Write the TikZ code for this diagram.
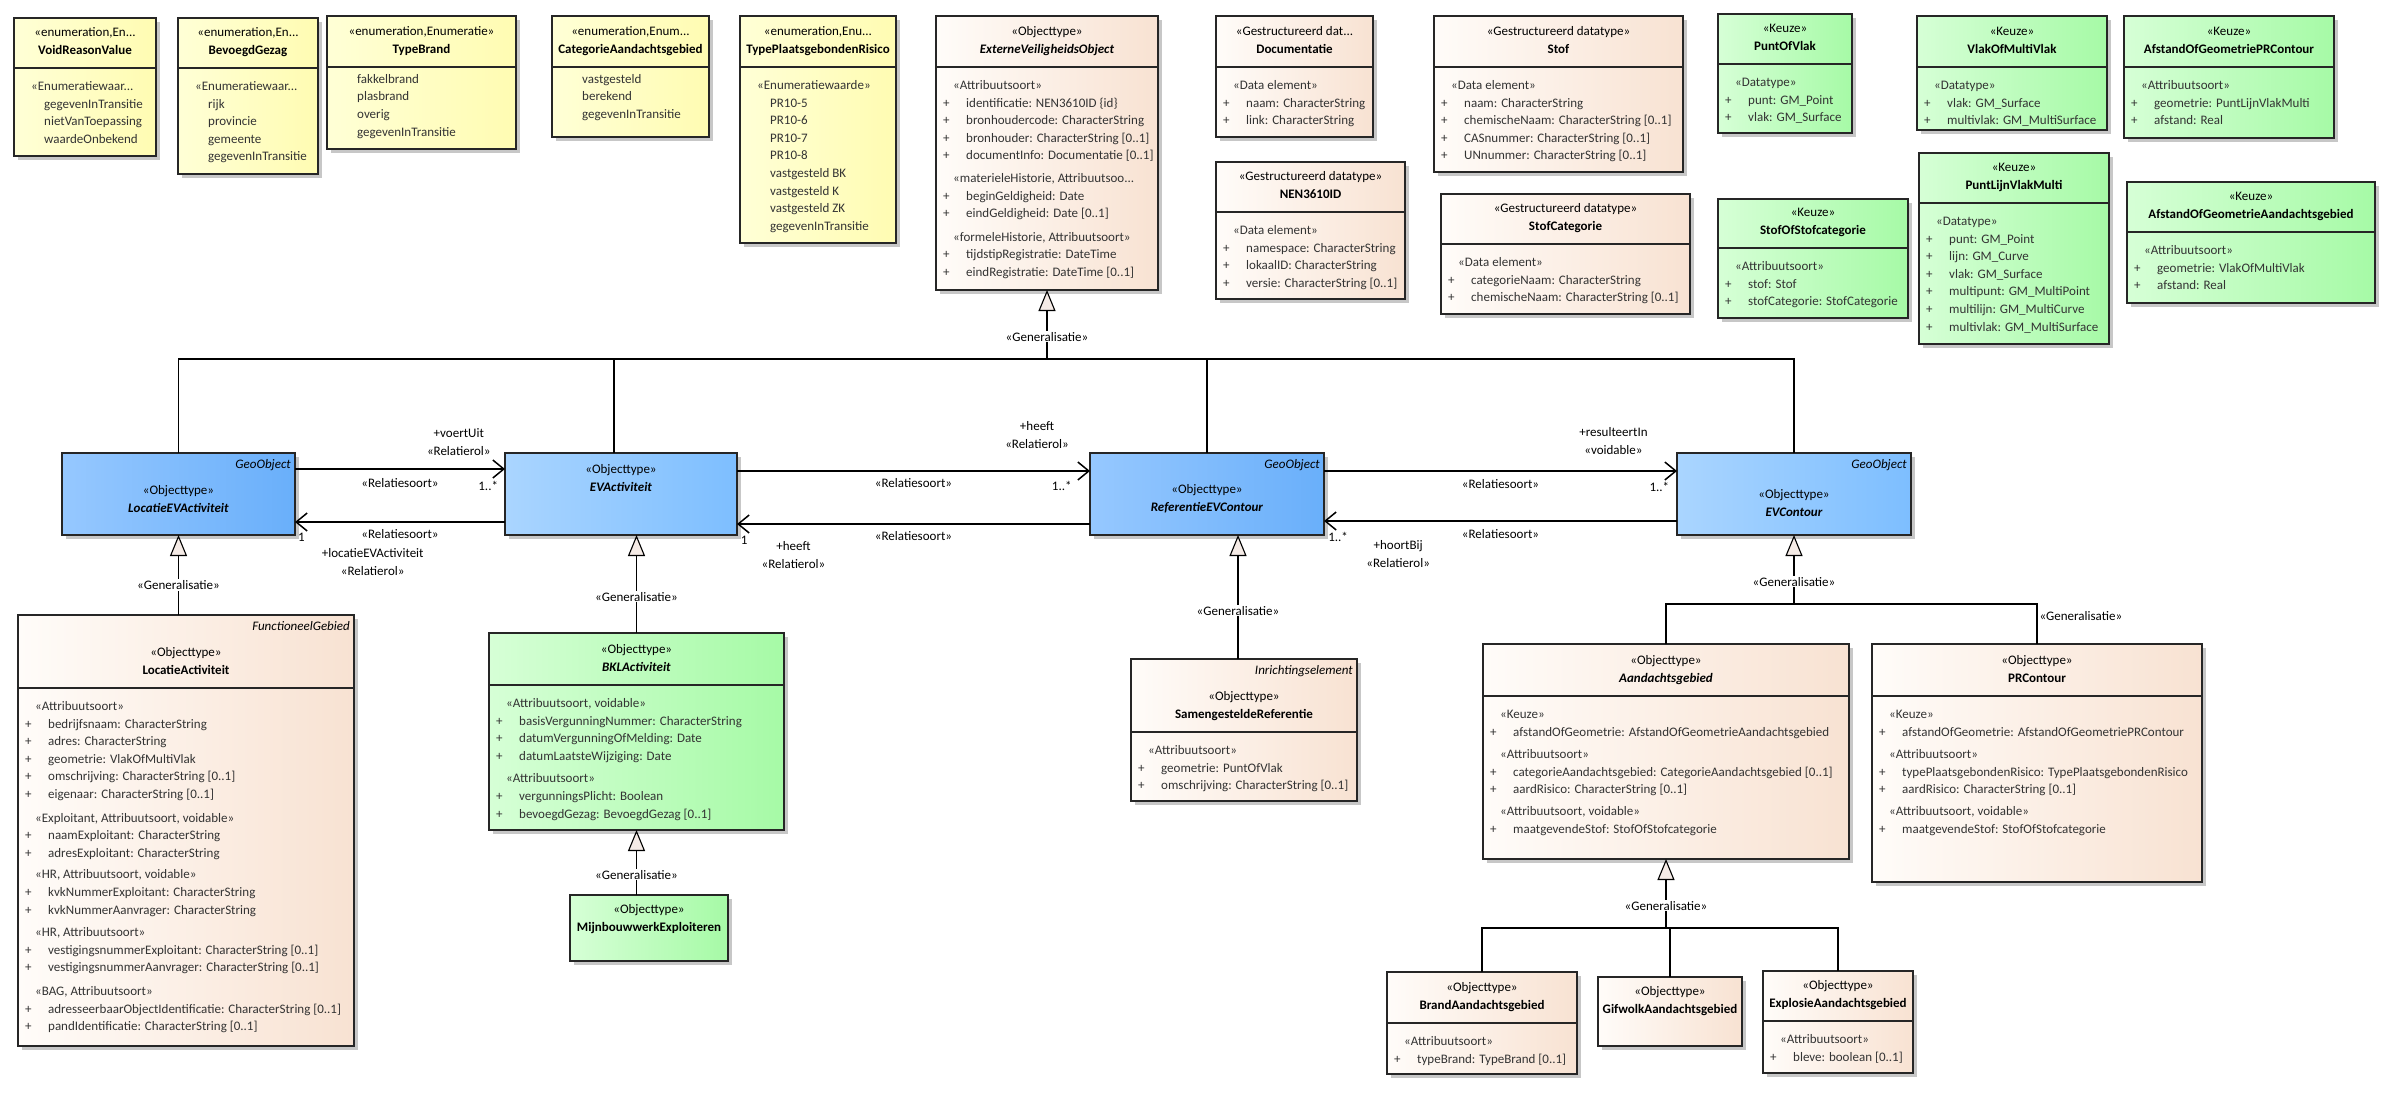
\documentclass[tikz,border=0pt]{standalone}
\usepackage{fontspec}
\setmainfont{Carlito}
\usepackage{tikz}
\usetikzlibrary{arrows.meta, shadows}
\usepackage{xcolor}
\definecolor{enumleft}{RGB}{255,255,214}
\definecolor{enumright}{RGB}{255,252,178}
\definecolor{objleft}{RGB}{255,252,249}
\definecolor{objright}{RGB}{248,226,210}
\definecolor{keuzeleft}{RGB}{214,255,214}
\definecolor{keuzeright}{RGB}{166,250,166}
\definecolor{geoleft}{RGB}{150,200,255}
\definecolor{georight}{RGB}{105,175,250}
\definecolor{evleft}{RGB}{170,213,255}
\definecolor{evright}{RGB}{125,190,255}
\definecolor{trifill}{RGB}{245,235,230}

% header, stereotype and attribute lines of a class box
\newcommand{\hdr}[2]{\strut#1\\\strut\textbf{#2}}
\newcommand{\stereo}[1]{\strut\hspace{10pt}#1}
\newcommand{\attr}[1]{\strut\makebox[23pt][l]{+}#1}
\newcommand{\lit}[1]{\strut\hspace{23pt}#1}
\newcommand{\litf}[1]{\rule{0pt}{6pt}\hspace{23pt}\smash{#1}}
% name, colour style, x, y, width, height, divider, header, body
\newcommand{\umlbox}[9]{%
  \node[classbox, #2, minimum width=#5pt, minimum height=#6pt, anchor=north west] (#1) at (#3,#4) {};
  \node[hdrtext, anchor=south] (#1-h) at ([yshift=-#7pt+8pt]#1.north) {#8};
  \if\relax\detokenize{#9}\relax\else
  \draw[divider] ([yshift=-#7pt]#1.north west) -- ([yshift=-#7pt]#1.north east);
  \node[bodytext, anchor=north west] (#1-b) at ([xshift=7pt,yshift=-#7pt-10pt]#1.north west) {#9};
  \fi}

\begin{document}
\begin{tikzpicture}[x=1pt, y=-1pt,
  classbox/.style={rectangle, draw=black!85, line width=1.1pt, inner sep=0pt, outer sep=0pt,
                   drop shadow={shadow xshift=4pt, shadow yshift=-4pt, fill=black, opacity=0.22}},
  enum/.style={left color=enumleft, right color=enumright},
  obj/.style={left color=objleft, right color=objright},
  keuze/.style={left color=keuzeleft, right color=keuzeright},
  geo/.style={left color=geoleft, right color=georight},
  ev/.style={left color=evleft, right color=evright},
  divider/.style={draw=black!85, line width=1.1pt},
  hdrtext/.style={font=\fontsize{13}{17.6}\selectfont, align=center, inner sep=0pt},
  bodytext/.style={font=\fontsize{13}{17.6}\selectfont, align=left, inner sep=0pt, text=black!80},
  tag/.style={font=\fontsize{13}{16}\selectfont\itshape, inner sep=0pt, anchor=north east},
  lbl/.style={font=\fontsize{13}{18}\selectfont, align=center, inner sep=1pt},
  genlbl/.style={lbl, fill=white},
  genline/.style={line width=1.1pt},
  gen/.style={genline, -{Triangle[length=21pt, width=17pt, fill=trifill]}},
  assoc/.style={line width=1.5pt, -{Straight Barb[length=11pt, width=18pt]}}
]
\useasboundingbox[fill=white] (0,0) rectangle (2399,1093);

% enumerations
\umlbox{vrv}{enum}{14}{18}{142}{138}{50}{\hdr{«enumeration,En...}{VoidReasonValue}}
  {\stereo{«Enumeratiewaar...}\\\lit{gegevenInTransitie}\\\lit{nietVanToepassing}\\\lit{waardeOnbekend}}
\umlbox{bgz}{enum}{178}{18}{140}{156}{50}{\hdr{«enumeration,En...}{BevoegdGezag}}
  {\stereo{«Enumeratiewaar...}\\\lit{rijk}\\\lit{provincie}\\\lit{gemeente}\\\lit{gegevenInTransitie}}
\umlbox{tbr}{enum}{327}{16}{189}{133}{51}{\hdr{«enumeration,Enumeratie»}{TypeBrand}}
  {\litf{fakkelbrand}\\\lit{plasbrand}\\\lit{overig}\\\lit{gegevenInTransitie}}
\umlbox{cag}{enum}{552}{16}{157}{121}{51}{\hdr{«enumeration,Enum...}{CategorieAandachtsgebied}}
  {\litf{vastgesteld}\\\lit{berekend}\\\lit{gegevenInTransitie}}
\umlbox{tpr}{enum}{740}{16}{156}{227}{51}{\hdr{«enumeration,Enu...}{TypePlaatsgebondenRisico}}
  {\stereo{«Enumeratiewaarde»}\\\lit{PR10-5}\\\lit{PR10-6}\\\lit{PR10-7}\\\lit{PR10-8}\\
   \lit{vastgesteld BK}\\\lit{vastgesteld K}\\\lit{vastgesteld ZK}\\\lit{gegevenInTransitie}}

% datatypes
\umlbox{evo}{obj}{936}{16}{222}{274}{51}{\hdr{«Objecttype»}{\textit{ExterneVeiligheidsObject}}}
  {\stereo{«Attribuutsoort»}\\\attr{identificatie: NEN3610ID \{id\}}\\\attr{bronhoudercode: CharacterString}\\
   \attr{bronhouder: CharacterString [0..1]}\\\attr{documentInfo: Documentatie [0..1]}\\[5pt]
   \stereo{«materieleHistorie, Attribuutsoo...}\\\attr{beginGeldigheid: Date}\\\attr{eindGeldigheid: Date [0..1]}\\[6pt]
   \stereo{«formeleHistorie, Attribuutsoort»}\\\attr{tijdstipRegistratie: DateTime}\\\attr{eindRegistratie: DateTime [0..1]}}
\umlbox{doc}{obj}{1216}{16}{157}{121}{51}{\hdr{«Gestructureerd dat...}{Documentatie}}
  {\stereo{«Data element»}\\\attr{naam: CharacterString}\\\attr{link: CharacterString}}
\umlbox{nen}{obj}{1216}{162}{189}{137}{50}{\hdr{«Gestructureerd datatype»}{NEN3610ID}}
  {\stereo{«Data element»}\\\attr{namespace: CharacterString}\\\attr{lokaalID: CharacterString}\\\attr{versie: CharacterString [0..1]}}
\umlbox{stof}{obj}{1434}{16}{249}{156}{51}{\hdr{«Gestructureerd datatype»}{Stof}}
  {\stereo{«Data element»}\\\attr{naam: CharacterString}\\\attr{chemischeNaam: CharacterString [0..1]}\\
   \attr{CASnummer: CharacterString [0..1]}\\\attr{UNnummer: CharacterString [0..1]}}
\umlbox{stc}{obj}{1441}{194}{249}{120}{50}{\hdr{«Gestructureerd datatype»}{StofCategorie}}
  {\stereo{«Data element»}\\\attr{categorieNaam: CharacterString}\\\attr{chemischeNaam: CharacterString [0..1]}}

% keuze types
\umlbox{pov}{keuze}{1718}{14}{134}{119}{50}{\hdr{«Keuze»}{PuntOfVlak}}
  {\stereo{«Datatype»}\\\attr{punt: GM\_Point}\\\attr{vlak: GM\_Surface}}
\umlbox{vmv}{keuze}{1917}{16}{190}{114}{51}{\hdr{«Keuze»}{VlakOfMultiVlak}}
  {\stereo{«Datatype»}\\\attr{vlak: GM\_Surface}\\\attr{multivlak: GM\_MultiSurface}}
\umlbox{agp}{keuze}{2124}{16}{210}{122}{51}{\hdr{«Keuze»}{AfstandOfGeometriePRContour}}
  {\stereo{«Attribuutsoort»}\\\attr{geometrie: PuntLijnVlakMulti}\\\attr{afstand: Real}}
\umlbox{sos}{keuze}{1718}{199}{190}{119}{49}{\hdr{«Keuze»}{StofOfStofcategorie}}
  {\stereo{«Attribuutsoort»}\\\attr{stof: Stof}\\\attr{stofCategorie: StofCategorie}}
\umlbox{plv}{keuze}{1919}{153}{190}{191}{50}{\hdr{«Keuze»}{PuntLijnVlakMulti}}
  {\stereo{«Datatype»}\\\attr{punt: GM\_Point}\\\attr{lijn: GM\_Curve}\\\attr{vlak: GM\_Surface}\\
   \attr{multipunt: GM\_MultiPoint}\\\attr{multilijn: GM\_MultiCurve}\\\attr{multivlak: GM\_MultiSurface}}
\umlbox{aga}{keuze}{2127}{182}{248}{121}{50}{\hdr{«Keuze»}{AfstandOfGeometrieAandachtsgebied}}
  {\stereo{«Attribuutsoort»}\\\attr{geometrie: VlakOfMultiVlak}\\\attr{afstand: Real}}

% geo objects
\umlbox{locev}{geo}{62}{453}{233}{82}{73}{\hdr{«Objecttype»}{\textit{LocatieEVActiviteit}}}{}
\umlbox{evact}{ev}{505}{453}{232}{82}{52}{\hdr{«Objecttype»}{\textit{EVActiviteit}}}{}
\umlbox{refev}{geo}{1090}{453}{234}{82}{72}{\hdr{«Objecttype»}{\textit{ReferentieEVContour}}}{}
\umlbox{evc}{ev}{1677}{453}{234}{82}{77}{\hdr{«Objecttype»}{\textit{EVContour}}}{}
\node[tag] (locev-t) at ([xshift=-4pt,yshift=-6pt]locev.north east) {GeoObject};
\node[tag] (refev-t) at ([xshift=-4pt,yshift=-6pt]refev.north east) {GeoObject};
\node[tag] (evc-t) at ([xshift=-4pt,yshift=-6pt]evc.north east) {GeoObject};

% subtypes
\umlbox{loca}{obj}{18}{615}{336}{431}{73}{\hdr{«Objecttype»}{LocatieActiviteit}}
  {\stereo{«Attribuutsoort»}\\\attr{bedrijfsnaam: CharacterString}\\\attr{adres: CharacterString}\\
   \attr{geometrie: VlakOfMultiVlak}\\\attr{omschrijving: CharacterString [0..1]}\\\attr{eigenaar: CharacterString [0..1]}\\[6pt]
   \stereo{«Exploitant, Attribuutsoort, voidable»}\\\attr{naamExploitant: CharacterString}\\\attr{adresExploitant: CharacterString}\\[4pt]
   \stereo{«HR, Attribuutsoort, voidable»}\\\attr{kvkNummerExploitant: CharacterString}\\\attr{kvkNummerAanvrager: CharacterString}\\[5pt]
   \stereo{«HR, Attribuutsoort»}\\\attr{vestigingsnummerExploitant: CharacterString [0..1]}\\
   \attr{vestigingsnummerAanvrager: CharacterString [0..1]}\\[6pt]
   \stereo{«BAG, Attribuutsoort»}\\\attr{adresseerbaarObjectIdentificatie: CharacterString [0..1]}\\
   \attr{pandIdentificatie: CharacterString [0..1]}}
\node[tag] (loca-t) at ([xshift=-4pt,yshift=-6pt]loca.north east) {FunctioneelGebied};
\umlbox{bkl}{keuze}{489}{633}{295}{197}{52}{\hdr{«Objecttype»}{\textit{BKLActiviteit}}}
  {\stereo{«Attribuutsoort, voidable»}\\\attr{basisVergunningNummer: CharacterString}\\
   \attr{datumVergunningOfMelding: Date}\\\attr{datumLaatsteWijziging: Date}\\[5pt]
   \stereo{«Attribuutsoort»}\\\attr{vergunningsPlicht: Boolean}\\\attr{bevoegdGezag: BevoegdGezag [0..1]}}
\umlbox{mbw}{keuze}{570}{895}{158}{66}{50}{\hdr{«Objecttype»}{MijnbouwwerkExploiteren}}{}
\umlbox{sref}{obj}{1131}{659}{226}{142}{73}{\hdr{«Objecttype»}{SamengesteldeReferentie}}
  {\stereo{«Attribuutsoort»}\\\attr{geometrie: PuntOfVlak}\\\attr{omschrijving: CharacterString [0..1]}}
\node[tag] (sref-t) at ([xshift=-4pt,yshift=-6pt]sref.north east) {Inrichtingselement};
\umlbox{aan}{obj}{1483}{644}{366}{215}{52}{\hdr{«Objecttype»}{\textit{Aandachtsgebied}}}
  {\stereo{«Keuze»}\\\attr{afstandOfGeometrie: AfstandOfGeometrieAandachtsgebied}\\[5pt]
   \stereo{«Attribuutsoort»}\\\attr{categorieAandachtsgebied: CategorieAandachtsgebied [0..1]}\\
   \attr{aardRisico: CharacterString [0..1]}\\[4pt]
   \stereo{«Attribuutsoort, voidable»}\\\attr{maatgevendeStof: StofOfStofcategorie}}
\umlbox{prc}{obj}{1872}{644}{330}{238}{52}{\hdr{«Objecttype»}{PRContour}}
  {\stereo{«Keuze»}\\\attr{afstandOfGeometrie: AfstandOfGeometriePRContour}\\[5pt]
   \stereo{«Attribuutsoort»}\\\attr{typePlaatsgebondenRisico: TypePlaatsgebondenRisico}\\
   \attr{aardRisico: CharacterString [0..1]}\\[4pt]
   \stereo{«Attribuutsoort, voidable»}\\\attr{maatgevendeStof: StofOfStofcategorie}}
\umlbox{baa}{obj}{1387}{972}{190}{102}{51}{\hdr{«Objecttype»}{BrandAandachtsgebied}}
  {\stereo{«Attribuutsoort»}\\\attr{typeBrand: TypeBrand [0..1]}}
\umlbox{gaa}{obj}{1598}{977}{144}{69}{50}{\hdr{«Objecttype»}{GifwolkAandachtsgebied}}{}
\umlbox{eaa}{obj}{1763}{971}{150}{102}{50}{\hdr{«Objecttype»}{ExplosieAandachtsgebied}}
  {\stereo{«Attribuutsoort»}\\\attr{bleve: boolean [0..1]}}

% generalisations
\coordinate (evobus) at (1047,359);
\coordinate (evcbus) at (1794,604);
\coordinate (aanbus) at (1666,928);
\draw[genline] (locev.north) |- (evobus);
\draw[genline] ([xshift=-7pt]evact.north) |- (evobus);
\draw[genline] (refev.north) |- (evobus);
\draw[genline] (evc.north) |- (evobus);
\draw[gen] (evobus) -- node[genlbl, pos=0.32] (g-evo) {«Generalisatie»} (evo.south);
\draw[gen] (locev.south |- loca.north) -- node[genlbl, pos=0.375] (g-loca) {«Generalisatie»} (locev.south);
\draw[gen] (bkl.north) -- node[genlbl, pos=0.37] (g-bkl) {«Generalisatie»} (bkl.north |- evact.south);
\draw[gen] (bkl.south |- mbw.north) -- node[genlbl, pos=0.31] (g-mbw) {«Generalisatie»} (bkl.south);
\draw[gen] ([xshift=-6pt]sref.north) -- node[genlbl, pos=0.39] (g-sref) {«Generalisatie»}
  ([xshift=-6pt]sref.north |- refev.south);
\draw[genline] (aan.north) |- (evcbus);
\draw[genline] (prc.north) |- node[lbl, pos=0.35, right=1pt] (g-prc) {«Generalisatie»} (evcbus);
\draw[gen] (evcbus) -- node[genlbl, pos=0.32] (g-evc) {«Generalisatie»} (evc.south);
\draw[genline] (baa.north) |- (aanbus);
\draw[genline] (gaa.north) |- (aanbus);
\draw[genline] (eaa.north) |- (aanbus);
\draw[gen] (aanbus) -- node[genlbl, pos=0.32] (g-aan) {«Generalisatie»} (aan.south);

% relaties
\draw[assoc] ([yshift=25pt]locev.east) --
  node[lbl, midway, yshift=-14pt] (a1-s) {«Relatiesoort»}
  node[lbl, pos=0.92, yshift=-17pt] (a1-m) {1..*}
  node[lbl, pos=0.78, yshift=27pt] (a1-r) {+voertUit\\«Relatierol»}
  ([yshift=25pt]evact.west);
\draw[assoc] ([yshift=-28pt]evact.west) --
  node[lbl, midway, yshift=-12pt] (a2-s) {«Relatiesoort»}
  node[lbl, pos=0.97, yshift=-15pt] (a2-m) {1}
  node[lbl, pos=0.63, yshift=-40pt] (a2-r) {+locatieEVActiviteit\\«Relatierol»}
  ([yshift=-28pt]locev.east);
\draw[assoc] ([yshift=23pt]evact.east) --
  node[lbl, midway, yshift=-12pt] (a3-s) {«Relatiesoort»}
  node[lbl, pos=0.92, yshift=-15pt] (a3-m) {1..*}
  node[lbl, pos=0.85, yshift=36pt] (a3-r) {+heeft\\«Relatierol»}
  ([yshift=23pt]refev.west);
\draw[assoc] ([yshift=-30pt]refev.west) --
  node[lbl, midway, yshift=-12pt] (a4-s) {«Relatiesoort»}
  node[lbl, pos=0.98, yshift=-16pt] (a4-m) {1}
  node[lbl, pos=0.84, yshift=-31pt] (a4-r) {+heeft\\«Relatierol»}
  ([yshift=-30pt]evact.east);
\draw[assoc] ([yshift=23pt]refev.east) --
  node[lbl, midway, yshift=-13pt] (a5-s) {«Relatiesoort»}
  node[lbl, pos=0.95, yshift=-16pt] (a5-m) {1..*}
  node[lbl, pos=0.82, yshift=30pt] (a5-r) {+resulteertIn\\«voidable»}
  ([yshift=23pt]evc.west);
\draw[assoc] ([yshift=-27pt]evc.west) --
  node[lbl, midway, yshift=-13pt] (a6-s) {«Relatiesoort»}
  node[lbl, pos=0.96, yshift=-16pt] (a6-m) {1..*}
  node[lbl, pos=0.79, yshift=-33pt] (a6-r) {+hoortBij\\«Relatierol»}
  ([yshift=-27pt]refev.east);

\end{tikzpicture}
\end{document}
